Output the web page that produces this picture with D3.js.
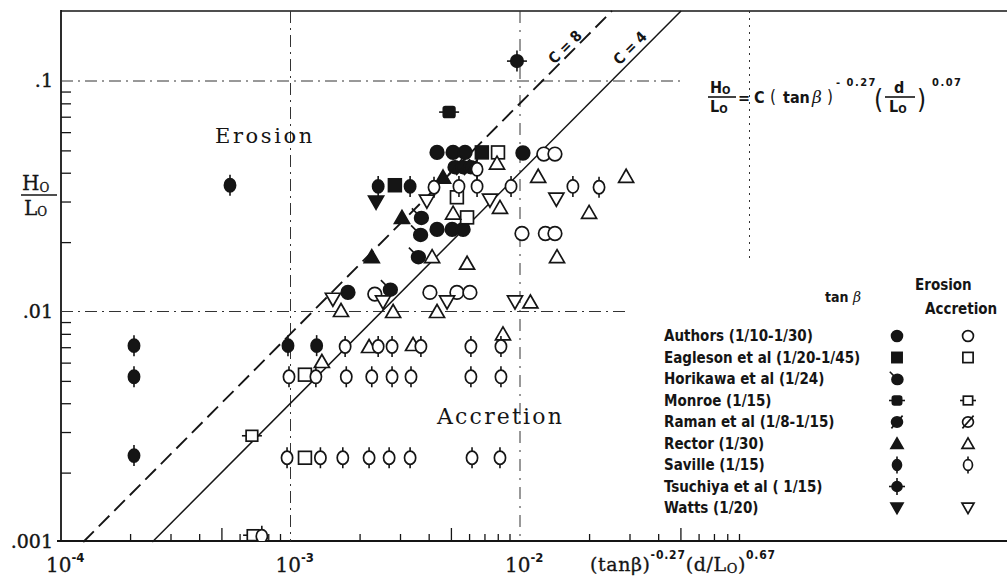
<!DOCTYPE html>
<html><head><meta charset="utf-8">
<script src="https://cdn.jsdelivr.net/npm/d3@7"></script>
<style>body{margin:0;background:#fff}svg{display:block}</style>
</head><body><svg id="c" width="1007" height="578"></svg>
<script>
// ---------------- data ----------------
const xMajorTicks = [1e-4, 1e-3, 1e-2];
const xMajorExp = ["-4", "-3", "-2"];
const yMajorTicks = [0.1, 0.01, 0.001];
const yTickLabels = [".1", ".01", ".001"];
const cValues = [8, 4];

const authorsErosion = [[4.35e-3,0.049],[5.11e-3,0.049],[5.76e-3,0.049],[1.03e-2,0.0487],[4.35e-3,0.0227],[5.06e-3,0.0227],[5.65e-3,0.0227],[1.78e-3,0.0121]];
const authorsAccretion = [[1.27e-2,0.0482],[1.42e-2,0.0482],[1.02e-2,0.0218],[1.29e-2,0.0218],[1.42e-2,0.0218],[2.33e-3,0.0119],[4.05e-3,0.0121],[5.31e-3,0.0121],[6.05e-3,0.0121]];
const eaglesonErosion = [[2.85e-3,0.0353],[6.82e-3,0.049]];
const eaglesonAccretion = [[8.02e-3,0.049],[5.31e-3,0.0313],[5.88e-3,0.0256],[1.156e-3,0.00532],[1.156e-3,0.00232]];
const horikawaErosion = [[3.70e-3,0.0256],[3.67e-3,0.0216],[3.59e-3,0.0173],[2.71e-3,0.0125]];
const horikawaAccretion = [];
const monroeErosion = [[4.91e-3,0.0733]];
const monroeAccretion = [[6.79e-4,0.00289],[6.87e-4,0.00107]];
const ramanErosion = [[5.21e-3,0.0423],[5.65e-3,0.0423],[6.11e-3,0.0423]];
const ramanAccretion = [];
const rectorErosion = [[4.62e-3,0.0383],[3.06e-3,0.0256],[2.26e-3,0.0173]];
const rectorAccretion = [[7.94e-3,0.044],[1.20e-2,0.0386],[2.90e-2,0.0386],[8.18e-3,0.0283],[2.00e-2,0.0269],[5.11e-3,0.0267],[4.14e-3,0.0173],[5.88e-3,0.0162],[1.45e-2,0.0173],[1.66e-3,0.0101],[2.80e-3,0.0100],[4.35e-3,0.0100],[1.11e-2,0.0110],[8.43e-3,0.0080],[1.37e-3,0.00607],[2.20e-3,0.00705],[3.42e-3,0.00719]];
const savilleErosion = [[5.45e-4,0.0353],[2.08e-4,0.00711],[2.08e-4,0.00521],[2.08e-4,0.00237],[9.75e-4,0.00711],[1.30e-3,0.00711],[2.41e-3,0.0349],[3.32e-3,0.0349]];
const savilleAccretion = [[4.22e-3,0.0346],[5.42e-3,0.0349],[6.50e-3,0.0349],[9.14e-3,0.0349],[1.70e-2,0.0349],[2.21e-2,0.0346],[6.50e-3,0.0414],
  [1.73e-3,0.00705],[2.41e-3,0.00705],[2.77e-3,0.00705],[3.70e-3,0.00705],[6.11e-3,0.00705],[8.26e-3,0.00705],
  [9.85e-4,0.00521],[1.29e-3,0.00521],[1.75e-3,0.00521],[2.26e-3,0.00521],[2.77e-3,0.00521],[3.35e-3,0.00521],[6.11e-3,0.00521],[8.26e-3,0.00521],
  [9.66e-4,0.00232],[1.35e-3,0.00232],[1.69e-3,0.00232],[2.20e-3,0.00232],[2.69e-3,0.00232],[3.32e-3,0.00232],[6.18e-3,0.00232],[8.18e-3,0.00232],
  [7.5e-4,0.00106]];
const tsuchiyaErosion = [[9.70e-3,0.122]];
const tsuchiyaAccretion = [];
const wattsErosion = [[2.36e-3,0.0298]];
const wattsAccretion = [[3.93e-3,0.0301],[7.40e-3,0.0304],[1.44e-2,0.0307],[1.53e-3,0.0113],[2.53e-3,0.0110],[4.81e-3,0.0110],[9.51e-3,0.0110]];

const legendLabels = ["Authors (1/10-1/30)","Eagleson et al (1/20-1/45)","Horikawa et al (1/24)","Monroe (1/15)","Raman et al (1/8-1/15)","Rector (1/30)","Saville (1/15)","Tsuchiya et al ( 1/15)","Watts (1/20)"];

// ---------------- drawing ----------------
const svg = d3.select("#c");
const W = 1007;
const L = 61, T = 11, B = 541;
const x = d3.scaleLog().domain([1e-4, 1]).range([L, L + 229.5 * 4]);
const y = d3.scaleLog().domain([0.001, 0.1]).range([542, 81]);
const ink = "#151515";

const symbolKinds = ["circle","square","horikawa","monroe","raman","triUp","saville","tsuchiya","triDown"];
const erosionSets = [authorsErosion,eaglesonErosion,horikawaErosion,monroeErosion,ramanErosion,rectorErosion,savilleErosion,tsuchiyaErosion,wattsErosion];
const accretionSets = [authorsAccretion,eaglesonAccretion,horikawaAccretion,monroeAccretion,ramanAccretion,rectorAccretion,savilleAccretion,tsuchiyaAccretion,wattsAccretion];
const legendHasAccretion = [true,true,false,true,true,true,true,false,true];

// frame
svg.append("line").attr("x1",L).attr("x2",L).attr("y1",T-1).attr("y2",B).attr("stroke",ink).attr("stroke-width",1.8);
svg.append("line").attr("x1",L).attr("x2",W).attr("y1",T).attr("y2",T).attr("stroke",ink).attr("stroke-width",1.6);
svg.append("line").attr("x1",L-4).attr("x2",W).attr("y1",B).attr("y2",B).attr("stroke",ink).attr("stroke-width",1.8);

// minor ticks via axes
const xMinor = [];
[1e-4,1e-3,1e-2].forEach(d => { for (let k=2;k<=9;k++) xMinor.push(d*k); });
const gx = svg.append("g").attr("transform",`translate(0,${B})`)
  .call(d3.axisBottom(x).tickValues(xMinor).tickFormat("").tickSizeInner(-7).tickSizeOuter(0));
gx.select(".domain").remove();
gx.selectAll(".tick line").attr("stroke",ink).attr("stroke-width",1.3)
  .attr("y2", d => { const m = d / Math.pow(10, Math.floor(Math.log10(d) + 1e-9)); return Math.abs(m - 5) < 1e-6 ? -13 : -7; });

const yMinor = [];
[1e-3,1e-2].forEach(d => { for (let k=2;k<=9;k++) yMinor.push(d*k); });
const gy = svg.append("g").attr("transform",`translate(${L},0)`)
  .call(d3.axisLeft(y).tickValues(yMinor).tickFormat("").tickSizeInner(-10).tickSizeOuter(0));
gy.select(".domain").remove();
gy.selectAll(".tick line").attr("stroke",ink).attr("stroke-width",1.3);

// grid lines (dash-dot)
const gridStyle = s => s.attr("stroke","#333").attr("stroke-width",1).attr("stroke-dasharray","12,5,2,5").attr("fill","none");
svg.append("line").attr("x1",L).attr("x2",682).attr("y1",y(0.1)).attr("y2",y(0.1)).call(gridStyle);
svg.append("line").attr("x1",L).attr("x2",630).attr("y1",y(0.01)).attr("y2",y(0.01)).call(gridStyle);
svg.append("line").attr("x1",x(1e-3)).attr("x2",x(1e-3)).attr("y1",T).attr("y2",B).call(gridStyle);
svg.append("line").attr("x1",x(1e-2)).attr("x2",x(1e-2)).attr("y1",T).attr("y2",B).call(gridStyle).attr("stroke-dasharray","12,7,2,7");
svg.append("line").attr("x1",x(1e-1)).attr("x2",x(1e-1)).attr("y1",T).attr("y2",262).call(gridStyle).attr("stroke-dasharray","2,5");

// C lines: H/L = C * X
const yTop = y.invert(T);
cValues.forEach((c,i) => {
  const x0 = 0.001 / c, x1 = yTop / c;
  const ln = svg.append("line").attr("x1",x(x0)).attr("y1",y(0.001)).attr("x2",x(x1)).attr("y2",y(yTop))
    .attr("stroke",ink).attr("stroke-width", i===0 ? 1.9 : 1.5);
  if (i===0) ln.attr("stroke-dasharray","15,7");
});
// C labels
const cLab = [[565,47],[630,48]];
const cond = "'DejaVu Sans Condensed','Liberation Sans Narrow','DejaVu Sans',sans-serif";
const serif = "'DejaVu Serif','Liberation Serif',serif";
cValues.forEach((c,i) => {
  svg.append("text").attr("transform",`translate(${cLab[i][0]},${cLab[i][1]}) rotate(-45)`)
    .attr("text-anchor","middle").attr("dy","0.35em")
    .attr("font-family",cond).attr("font-weight","bold").attr("font-size",15).attr("fill",ink).text(`C = ${c}`);
});

// markers
function marker(g, kind, filled, cx, cy, s) {
  const fill = filled ? ink : "#fff";
  const sw = 1.7;
  const base = sel => sel.attr("fill",fill).attr("stroke",ink).attr("stroke-width",sw);
  const ln = (x1,y1,x2,y2) => g.append("line").attr("x1",x1).attr("y1",y1).attr("x2",x2).attr("y2",y2).attr("stroke",ink).attr("stroke-width",1.6);
  if (kind === "circle") {
    g.append("circle").attr("cx",cx).attr("cy",cy).attr("r",6.8*s).call(base);
  } else if (kind === "square") {
    const h = 6.4*s; g.append("rect").attr("x",cx-h).attr("y",cy-h).attr("width",2*h).attr("height",2*h).call(base);
  } else if (kind === "triUp" || kind === "triDown") {
    const a = 7.5*s, d = kind === "triUp" ? 1 : -1;
    g.append("path").attr("d",`M${cx},${cy-d*7*s}L${cx+a},${cy+d*6*s}L${cx-a},${cy+d*6*s}Z`).call(base).attr("stroke-linejoin","miter");
  } else if (kind === "saville") {
    ln(cx,cy-10.5*s,cx,cy+10.5*s);
    g.append("ellipse").attr("cx",cx).attr("cy",cy).attr("rx",5.6*s).attr("ry",6.6*s).call(base);
  } else if (kind === "monroe") {
    ln(cx-10*s,cy,cx+10*s,cy);
    g.append("rect").attr("x",cx-5.8*s).attr("y",cy-5.4*s).attr("width",11.6*s).attr("height",10.8*s).attr("rx",filled?2:0).call(base);
  } else if (kind === "tsuchiya") {
    ln(cx-10*s,cy,cx+10*s,cy); ln(cx,cy-10.5*s,cx,cy+10.5*s);
    g.append("ellipse").attr("cx",cx).attr("cy",cy).attr("rx",6.2*s).attr("ry",6.2*s).call(base);
  } else if (kind === "horikawa") {
    ln(cx-9*s,cy-9*s,cx-3*s,cy-3*s);
    g.append("ellipse").attr("cx",cx+0.5*s).attr("cy",cy+0.5*s).attr("rx",6.8*s).attr("ry",6.4*s).call(base);
  } else if (kind === "raman") {
    g.append("ellipse").attr("cx",cx).attr("cy",cy).attr("rx",6.8*s).attr("ry",6.4*s).call(base);
    ln(cx-7*s,cy+8*s,cx+7*s,cy-8*s);
  }
}

svg.append("clipPath").attr("id","plotclip").append("rect").attr("x",L).attr("y",T).attr("width",W-L).attr("height",B-T);
const gm = svg.append("g").attr("clip-path","url(#plotclip)");
erosionSets.forEach((set,i) => set.forEach(d => marker(gm.append("g"), symbolKinds[i], true, x(d[0]), y(d[1]), 1)));
accretionSets.forEach((set,i) => set.forEach(d => marker(gm.append("g"), symbolKinds[i], false, x(d[0]), y(d[1]), 1)));

// axis tick labels
yMajorTicks.forEach((v,i) => {
  svg.append("text").attr("x",53).attr("y",y(v)+6).attr("text-anchor","end")
    .attr("font-family",serif).attr("font-size",19).attr("fill",ink).attr("stroke",ink).attr("stroke-width",0.4)
    .text(yTickLabels[i]);
});
xMajorTicks.forEach((v,i) => {
  const t = svg.append("text").attr("x",x(v)-15).attr("y",572)
    .attr("font-family",serif).attr("font-size",20).attr("fill",ink).attr("stroke",ink).attr("stroke-width",0.3);
  t.append("tspan").text("10");
  t.append("tspan").attr("dy",-10).attr("font-size",13).attr("font-family",cond).attr("font-weight","bold").attr("stroke-width",0).text(xMajorExp[i]);
});

// axis titles
const xt = svg.append("text").attr("x",590).attr("y",571).attr("font-family",serif).attr("font-size",19).attr("letter-spacing",0.6).attr("fill",ink).attr("stroke",ink).attr("stroke-width",0.3);
xt.append("tspan").text("(tanβ)");
xt.append("tspan").attr("dy",-12).attr("font-size",12).attr("font-family",cond).attr("font-weight","bold").attr("stroke-width",0).attr("letter-spacing",0.8).text("-0.27");
xt.append("tspan").attr("dy",12).text("(d/L");
xt.append("tspan").attr("dy",2).attr("font-size",13).text("O");
xt.append("tspan").attr("dy",-2).text(")");
xt.append("tspan").attr("dy",-12).attr("font-size",12).attr("font-family",cond).attr("font-weight","bold").attr("stroke-width",0).attr("letter-spacing",0.8).text("0.67");

const yt = svg.append("g").attr("font-family",serif).attr("fill",ink);
const h1 = yt.append("text").attr("x",22).attr("y",190).attr("font-size",20).attr("stroke",ink).attr("stroke-width",0.3);
h1.append("tspan").text("H"); h1.append("tspan").attr("dy",2).attr("font-size",12).text("O");
yt.append("line").attr("x1",21).attr("x2",57).attr("y1",195).attr("y2",195).attr("stroke",ink).attr("stroke-width",1.5);
const l1 = yt.append("text").attr("x",24).attr("y",215).attr("font-size",20).attr("stroke",ink).attr("stroke-width",0.3);
l1.append("tspan").text("L"); l1.append("tspan").attr("dy",1).attr("font-size",12).text("O");

// region labels
svg.append("text").attr("x",215).attr("y",143).attr("font-family",serif).attr("font-size",21).attr("letter-spacing",2.6).attr("fill",ink).text("Erosion");
svg.append("text").attr("x",437).attr("y",424).attr("font-family",serif).attr("font-size",22).attr("letter-spacing",2.2).attr("fill",ink).text("Accretion");

// formula
const fg = svg.append("g").attr("font-family",cond).attr("font-weight","bold").attr("fill",ink);
const fH = fg.append("text").attr("x",710).attr("y",93).attr("font-size",16);
fH.append("tspan").text("H"); fH.append("tspan").attr("dy",1).attr("font-size",11).text("O");
fg.append("line").attr("x1",708).attr("x2",736).attr("y1",97).attr("y2",97).attr("stroke",ink).attr("stroke-width",1.6);
const fL = fg.append("text").attr("x",710).attr("y",112).attr("font-size",16);
fL.append("tspan").text("L"); fL.append("tspan").attr("dy",1).attr("font-size",11).text("O");
fg.append("text").attr("x",738).attr("y",103).attr("font-size",16).text("=");
fg.append("text").attr("x",754).attr("y",103).attr("font-size",16).text("C");
fg.append("text").attr("x",770).attr("y",103).attr("font-size",17).attr("font-weight","normal").text("(");
fg.append("text").attr("x",783).attr("y",103).attr("font-size",16).text("tan");
fg.append("text").attr("x",812).attr("y",103).attr("font-size",17).attr("font-family",serif).attr("font-style","italic").attr("font-weight","normal").text("β");
fg.append("text").attr("x",827).attr("y",103).attr("font-size",17).attr("font-weight","normal").text(")");
fg.append("text").attr("x",836).attr("y",86).attr("font-size",11).attr("letter-spacing",1.5).text("- 0.27");
fg.append("text").attr("x",874).attr("y",108).attr("font-size",26).attr("font-weight","normal").text("(");
fg.append("text").attr("x",894).attr("y",93).attr("font-size",16).text("d");
fg.append("line").attr("x1",885).attr("x2",915).attr("y1",97).attr("y2",97).attr("stroke",ink).attr("stroke-width",1.6);
const fL2 = fg.append("text").attr("x",889).attr("y",112).attr("font-size",16);
fL2.append("tspan").text("L"); fL2.append("tspan").attr("dy",1).attr("font-size",11).text("O");
fg.append("text").attr("x",917).attr("y",108).attr("font-size",26).attr("font-weight","normal").text(")");
fg.append("text").attr("x",932).attr("y",86).attr("font-size",11).attr("letter-spacing",1.5).text("0.07");

// legend
const lg = svg.append("g").attr("font-family",cond).attr("font-weight","bold").attr("fill",ink);
lg.append("text").attr("x",915).attr("y",290).attr("font-size",15).text("Erosion");
const tb = lg.append("text").attr("x",825).attr("y",302).attr("font-size",14);
tb.append("tspan").text("tan "); tb.append("tspan").attr("font-family",serif).attr("font-style","italic").attr("font-weight","normal").text("β");
lg.append("text").attr("x",925).attr("y",314).attr("font-size",15).text("Accretion");
const rowY = i => 336 + i * 21.5;
legendLabels.forEach((lab,i) => {
  lg.append("text").attr("x",664).attr("y",rowY(i)+5).attr("font-size",15).text(lab);
  marker(lg.append("g"), symbolKinds[i], true, 897, rowY(i), 0.8);
  if (legendHasAccretion[i]) marker(lg.append("g"), symbolKinds[i], false, 968, rowY(i), 0.8);
});
</script></body></html>
